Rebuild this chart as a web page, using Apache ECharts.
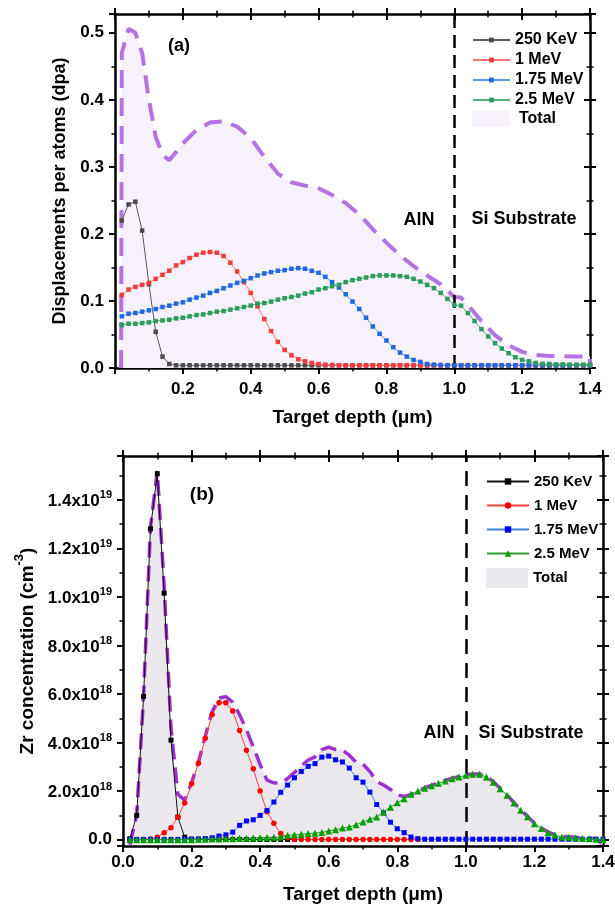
<!DOCTYPE html>
<html><head><meta charset="utf-8">
<script src="https://cdn.jsdelivr.net/npm/echarts@6/dist/echarts.min.js"></script>
<style>
html,body{margin:0;padding:0;background:#fff;}
#wrap{position:relative;width:615px;height:909px;background:#fff;}
#ca{position:absolute;left:0;top:0;width:615px;height:430px;}
#cb{position:absolute;left:0;top:430px;width:615px;height:479px;}
</style>
</head><body><div id="wrap"><div id="ca"></div><div id="cb"></div></div>
<script>
// ---------------- DATA ----------------
const depth = [0.02,0.04,0.06,0.08,0.10,0.12,0.14,0.16,0.18,0.20,
  0.22,0.24,0.26,0.28,0.30,0.32,0.34,0.36,0.38,0.40,
  0.42,0.44,0.46,0.48,0.50,0.52,0.54,0.56,0.58,0.60,
  0.62,0.64,0.66,0.68,0.70,0.72,0.74,0.76,0.78,0.80,
  0.82,0.84,0.86,0.88,0.90,0.92,0.94,0.96,0.98,1.00,
  1.02,1.04,1.06,1.08,1.10,1.12,1.14,1.16,1.18,1.20,
  1.22,1.24,1.26,1.28,1.30,1.32,1.34,1.36,1.38,1.40];

const energyNames = ['250 KeV','1 MeV','1.75 MeV','2.5 MeV'];
const interfaceDepth = 1.0;

// (a) displacements per atom (dpa)
const dpa250keV = [0.220,0.244,0.248,0.205,0.125,0.054,0.017,0.006,0.004,0.004,
  0.004,0.004,0.004,0.004,0.004,0.004,0.004,0.004,0.004,0.004,
  0.004,0.004,0.004,0.004,0.004,0.004,0.004,0.004,0.004,0.004,
  0.004,0.004,0.004,0.004,0.004,0.004,0.004,0.004,0.004,0.004,
  0.004,0.004,0.004,0.004,0.004,0.004,0.004,0.004,0.004,0.004,
  0.004,0.004,0.004,0.004,0.004,0.004,0.004,0.004,0.004,0.004,
  0.004,0.004,0.004,0.004,0.004,0.004,0.004,0.004,0.004,0.004];
const dpa1MeV = [0.109,0.117,0.121,0.124,0.127,0.133,0.139,0.145,0.153,0.158,
  0.164,0.169,0.172,0.173,0.172,0.167,0.157,0.144,0.128,0.112,
  0.092,0.073,0.055,0.039,0.027,0.019,0.013,0.010,0.0075,0.006,
  0.005,0.0045,0.004,0.004,0.004,0.004,0.004,0.004,0.004,0.004,
  0.004,0.004,0.004,0.004,0.004,0.004,0.004,0.004,0.004,0.004,
  0.004,0.004,0.004,0.004,0.004,0.004,0.004,0.004,0.004,0.004,
  0.004,0.004,0.004,0.004,0.004,0.004,0.004,0.004,0.004,0.004];
const dpa175MeV = [0.077,0.081,0.082,0.084,0.086,0.088,0.091,0.093,0.096,0.098,
  0.102,0.105,0.108,0.112,0.115,0.119,0.123,0.127,0.130,0.134,
  0.138,0.141,0.143,0.145,0.146,0.148,0.149,0.148,0.145,0.142,
  0.136,0.128,0.120,0.110,0.099,0.088,0.075,0.062,0.051,0.041,
  0.031,0.023,0.017,0.012,0.009,0.006,0.005,0.0045,0.004,0.004,
  0.004,0.004,0.004,0.004,0.004,0.004,0.004,0.004,0.004,0.004,
  0.004,0.004,0.004,0.004,0.004,0.004,0.004,0.004,0.004,0.004];
const dpa25MeV = [0.064,0.066,0.066,0.067,0.068,0.070,0.071,0.072,0.074,0.075,
  0.077,0.079,0.080,0.082,0.084,0.085,0.087,0.089,0.091,0.093,
  0.096,0.097,0.099,0.102,0.104,0.106,0.108,0.111,0.113,0.117,
  0.119,0.122,0.124,0.128,0.131,0.133,0.135,0.137,0.138,0.138,
  0.138,0.137,0.136,0.133,0.129,0.124,0.119,0.112,0.103,0.094,
  0.093,0.082,0.070,0.058,0.047,0.037,0.029,0.022,0.016,0.012,
  0.010,0.0075,0.0064,0.006,0.0055,0.0055,0.005,0.005,0.005,0.005];
const dpaTotalDepth = [0.018,0.02,0.04,0.06,0.08,0.10,0.12,0.14,0.16,0.18,0.20,0.24,0.28,0.32,0.36,0.40,
  0.44,0.48,0.52,0.56,0.60,0.64,0.68,0.72,0.76,0.80,0.84,0.88,0.92,0.96,1.00,1.02,1.04,1.08,
  1.12,1.16,1.20,1.24,1.28,1.32,1.36,1.40,1.40];
const dpaTotal = [0,0.47,0.506,0.50,0.47,0.40,0.345,0.318,0.31,0.322,0.335,0.355,0.366,0.368,0.36,0.343,
  0.315,0.29,0.277,0.272,0.268,0.258,0.246,0.229,0.207,0.187,0.168,0.152,0.138,0.125,0.106,0.105,0.094,0.07,
  0.049,0.034,0.024,0.0195,0.018,0.0175,0.017,0.017,0];

// (b) Zr concentration, in units of 1e18 cm^-3
const zr250keV = [0.04,1.0,5.9,12.8,15.07,10.15,4.1,0.93,0.1,0.02,
  0.01,0.01,0.01,0.01,0.01,0.01,0.01,0.01,0.01,0.01,
  0.01,0.01,0.01,0.01,0.01];
const zr1MeV = [0.0,0.0,0.01,0.03,0.1,0.29,0.49,0.93,1.51,2.3,
  3.15,4.18,5.15,5.64,5.64,5.3,4.5,3.68,2.92,2.0,
  1.15,0.68,0.25,0.08,0.01,0.01,0.01,0.01,0.01,0.01,
  0.01,0.01,0.01,0.01,0.01,0.01,0.01,0.01,0.01,0.01,
  0.01,0.01,0.01];
const zr175MeV = [0.01,0.01,0.01,0.01,0.01,0.01,0.01,0.01,0.02,0.02,
  0.03,0.05,0.08,0.15,0.2,0.31,0.59,0.77,0.82,1.0,
  1.2,1.55,1.95,2.25,2.55,2.81,3.02,3.13,3.4,3.44,
  3.29,3.2,2.95,2.55,2.37,1.96,1.45,1.1,0.72,0.45,
  0.29,0.11,0.04,0.02,0.02,0.02,0.02,0.02,0.02,0.02,
  0.02,0.02,0.02,0.02,0.02,0.02,0.02,0.02,0.02,0.02,
  0.02,0.02,0.02,0.02,0.02,0.02,0.02,0.02,0.02,0.02];
const zr25MeV = [0.0,0.0,0.0,0.0,0.0,0.0,0.0,0.0,0.0,0.0,
  0.02,0.02,0.03,0.03,0.04,0.04,0.05,0.06,0.07,0.08,
  0.09,0.1,0.11,0.18,0.2,0.22,0.25,0.27,0.3,0.36,
  0.41,0.48,0.52,0.62,0.73,0.84,0.93,1.14,1.34,1.52,
  1.69,1.87,2.0,2.12,2.22,2.32,2.42,2.51,2.58,2.65,
  2.69,2.69,2.58,2.37,2.1,1.83,1.51,1.21,0.94,0.66,
  0.46,0.29,0.19,0.11,0.1,0.08,0.05,0.04,0.02,0.01];
const zrTotal = [-0.2,1.01,5.92,12.84,15.18,10.45,4.6,1.87,1.63,2.34,
  3.19,4.26,5.27,5.83,5.89,5.66,5.15,4.52,3.82,3.09,
  2.45,2.34,2.32,2.52,2.77,3.04,3.28,3.41,3.71,3.81,
  3.71,3.69,3.48,3.18,3.11,2.81,2.39,2.25,2.07,1.85,
  1.78,1.85,2.0,2.14,2.24,2.34,2.44,2.53,2.6,2.67,
  2.71,2.71,2.6,2.39,2.12,1.85,1.53,1.23,0.96,0.68,
  0.48,0.31,0.21,0.13,0.12,0.1,0.07,0.06,0.04,-0.2];

// ---------------- HELPERS ----------------
const FONT = '"Liberation Sans", Arial, Helvetica, sans-serif';
const pairs = (xs, ys) => ys.map((y, i) => [xs[i], y]);

function frameAxes(dim, scale, main) {
  const mainPos = dim === 'x' ? 'bottom' : 'left';
  const mirrorPos = dim === 'x' ? 'top' : 'right';
  const mk = () => Object.assign({type: 'value', splitLine: {show: false}}, scale);
  const line = (show) => ({show: show, onZero: false, lineStyle: {color: '#000', width: 2.5}});
  const tick = (inside) => ({show: true, inside: inside, length: 6, lineStyle: {color: '#000', width: 2}});
  const minor = () => ({show: true, splitNumber: 2, length: 3.5, lineStyle: {color: '#000', width: 1.5}});
  return [
    Object.assign(mk(), {position: mainPos, axisLine: line(true), axisTick: tick(false), minorTick: minor()}, main),
    Object.assign(mk(), {position: mirrorPos, axisLine: line(true), axisTick: tick(false), minorTick: minor(), axisLabel: {show: false}}),
    Object.assign(mk(), {position: mirrorPos, axisLine: line(false), axisTick: tick(true), minorTick: minor(), axisLabel: {show: false}})
  ];
}
const labelStyle = {fontSize: 17, fontWeight: 'bold', color: '#000', fontFamily: FONT};
const nameStyle = (size) => ({fontSize: size, fontWeight: 'bold', color: '#000', fontFamily: FONT});
const onStep = (v, step) => Math.abs(v / step - Math.round(v / step)) < 1e-6;
const textG = (text, x, y, size) => ({
  type: 'text', x: x, y: y, silent: true,
  style: {text: text, fill: '#000', font: 'bold ' + size + 'px ' + FONT, align: 'center', verticalAlign: 'middle', textAlign: 'center', textVerticalAlign: 'middle'}
});

// ---------------- CHART (a) ----------------
const topColors = [
  {mark: '#4b4b4b', line: '#5a5a5a'},
  {mark: '#f23b3b', line: '#f77474'},
  {mark: '#1f68e0', line: '#5f97ee'},
  {mark: '#2b9c5c', line: '#52b27c'}
];
const topData = [dpa250keV, dpa1MeV, dpa175MeV, dpa25MeV];

const chartA = echarts.init(document.getElementById('ca'), null, {renderer: 'canvas'});
const seriesA = [
  {name: 'Total', type: 'line', data: pairs(dpaTotalDepth, dpaTotal), symbol: 'none', silent: true, z: 1,
   lineStyle: {width: 0, opacity: 0}, itemStyle: {color: '#f7f1fb'}, areaStyle: {color: '#f7f1fb', opacity: 1}},
  {name: 'TotalLine', type: 'line', data: pairs(dpaTotalDepth, dpaTotal), symbol: 'none', silent: true, z: 2,
   lineStyle: {color: '#b274e2', width: 4, type: [18, 10]}}
];
energyNames.forEach((n, i) => {
  const s = {name: n, type: 'line', data: pairs(depth, topData[i]), symbol: 'rect', symbolSize: 4.5, z: 3 + i,
    itemStyle: {color: topColors[i].mark}, lineStyle: {color: topColors[i].line, width: 1}};
  if (i === 0) {
    s.markLine = {silent: true, symbol: ['none', 'none'], label: {show: false}, animation: false,
      lineStyle: {color: '#000', width: 2.5, type: [13, 7]}, data: [{xAxis: interfaceDepth}]};
  }
  seriesA.push(s);
});

chartA.setOption({
  animation: false,
  backgroundColor: 'transparent',
  grid: {left: 115, top: 14, width: 475, height: 354, containLabel: false, outerBoundsMode: 'none'},
  xAxis: frameAxes('x', {min: 0, max: 1.4, interval: 0.2}, {
    axisLabel: Object.assign({margin: 13, formatter: v => (v > 1e-9 && onStep(v, 0.2)) ? v.toFixed(1) : ''}, labelStyle),
    name: 'Target depth (\u03bcm)', nameLocation: 'middle', nameGap: 40, nameTextStyle: nameStyle(19)
  }),
  yAxis: frameAxes('y', {min: 0, max: 0.528, interval: 0.1}, {
    axisLabel: Object.assign({margin: 11, formatter: v => onStep(v, 0.1) ? v.toFixed(1) : ''}, labelStyle),
    name: 'Displacements per atoms (dpa)', nameLocation: 'middle', nameGap: 43, nameTextStyle: nameStyle(18)
  }),
  legend: [
    {data: energyNames, orient: 'vertical', left: 467, top: 27, itemWidth: 37, itemHeight: 6, itemGap: 4,
     selectedMode: false, textStyle: {fontSize: 16, fontWeight: 'bold', color: '#000', fontFamily: FONT}},
    {data: [{name: 'Total', icon: 'rect'}], orient: 'vertical', left: 467, top: 106, itemWidth: 37, itemHeight: 16,
     selectedMode: false, textStyle: {fontSize: 16, fontWeight: 'bold', color: '#000', fontFamily: FONT, padding: [0, 0, 0, 5]}}
  ],
  graphic: [
    textG('(a)', 179, 46, 18),
    textG('AlN', 419, 220, 18),
    textG('Si Substrate', 524, 219, 18)
  ],
  series: seriesA
});

// ---------------- CHART (b) ----------------
const botColors = [
  {mark: '#000000', line: '#111111', sym: 'rect', size: 5},
  {mark: '#ff0000', line: '#ff4040', sym: 'circle', size: 5.5},
  {mark: '#0000ff', line: '#3f80f0', sym: 'rect', size: 5},
  {mark: '#00a000', line: '#2f9a2f', sym: 'triangle', size: 7}
];
const botData = [zr250keV, zr1MeV, zr175MeV, zr25MeV];

const chartB = echarts.init(document.getElementById('cb'), null, {renderer: 'canvas'});
const seriesB = [
  {name: 'Total', type: 'line', data: pairs(depth, zrTotal), symbol: 'none', silent: true, z: 1,
   lineStyle: {width: 0, opacity: 0}, itemStyle: {color: '#eae8ec'}, areaStyle: {color: '#eae8ec', opacity: 1}},
  {name: 'TotalLine', type: 'line', data: pairs(depth, zrTotal), symbol: 'none', silent: true, z: 2,
   lineStyle: {color: '#a02fd2', width: 3.5, type: [16, 8]}}
];
energyNames.forEach((n, i) => {
  const s = {name: n, type: 'line', data: pairs(depth, botData[i]), symbol: botColors[i].sym, symbolSize: botColors[i].size, z: 3 + i,
    itemStyle: {color: botColors[i].mark}, lineStyle: {color: botColors[i].line, width: 1}};
  if (i === 0) {
    s.markLine = {silent: true, symbol: ['none', 'none'], label: {show: false}, animation: false,
      lineStyle: {color: '#000', width: 2.5, type: [15, 9]}, data: [{xAxis: interfaceDepth}]};
  }
  seriesB.push(s);
});

const supRich = {
  b: {fontSize: 17, fontWeight: 'bold', color: '#000', fontFamily: FONT, lineHeight: 20, verticalAlign: 'bottom'},
  s: {fontSize: 11, fontWeight: 'bold', color: '#000', fontFamily: FONT, lineHeight: 12, verticalAlign: 'top'}
};
function sciLabel(v) {
  if (!onStep(v, 2)) return '';
  if (Math.abs(v) < 1e-9) return '0.0';
  const e = v >= 10 ? 19 : 18;
  const m = v >= 10 ? v / 10 : v;
  return '{b|' + m.toFixed(1) + 'x10}{s|' + e + '}';
}

chartB.setOption({
  animation: false,
  backgroundColor: 'transparent',
  grid: {left: 123, top: 26, width: 480, height: 390, containLabel: false, outerBoundsMode: 'none'},
  xAxis: frameAxes('x', {min: 0, max: 1.4, interval: 0.2}, {
    axisLabel: Object.assign({margin: 8, formatter: v => onStep(v, 0.2) ? v.toFixed(1) : ''}, labelStyle),
    name: 'Target depth (\u03bcm)', nameLocation: 'middle', nameGap: 39, nameTextStyle: nameStyle(19)
  }),
  yAxis: frameAxes('y', {min: -0.26, max: 15.8, minInterval: 2, maxInterval: 2, splitNumber: 8}, {
    axisLabel: Object.assign({margin: 11, formatter: sciLabel, rich: supRich}, labelStyle),
    name: '{t|Zr concentration (cm}{s|-3}{t|)}', nameLocation: 'middle', nameGap: 81,
    nameTextStyle: {rich: {
      t: {fontSize: 19, fontWeight: 'bold', color: '#000', fontFamily: FONT, lineHeight: 24, verticalAlign: 'bottom'},
      s: {fontSize: 13, fontWeight: 'bold', color: '#000', fontFamily: FONT, lineHeight: 14, verticalAlign: 'top'}
    }}
  }),
  legend: [
    {data: energyNames, orient: 'vertical', left: 481, top: 39, itemWidth: 42, itemHeight: 8, itemGap: 9,
     selectedMode: false, textStyle: {fontSize: 15, fontWeight: 'bold', color: '#000', fontFamily: FONT}},
    {data: [{name: 'Total', icon: 'rect'}], orient: 'vertical', left: 481, top: 133, itemWidth: 42, itemHeight: 20,
     selectedMode: false, textStyle: {fontSize: 15, fontWeight: 'bold', color: '#000', fontFamily: FONT}}
  ],
  graphic: [
    textG('(b)', 202, 65, 19),
    textG('AlN', 439, 303, 18),
    textG('Si Substrate', 531, 303, 18)
  ],
  series: seriesB
});
</script>
</body></html>
